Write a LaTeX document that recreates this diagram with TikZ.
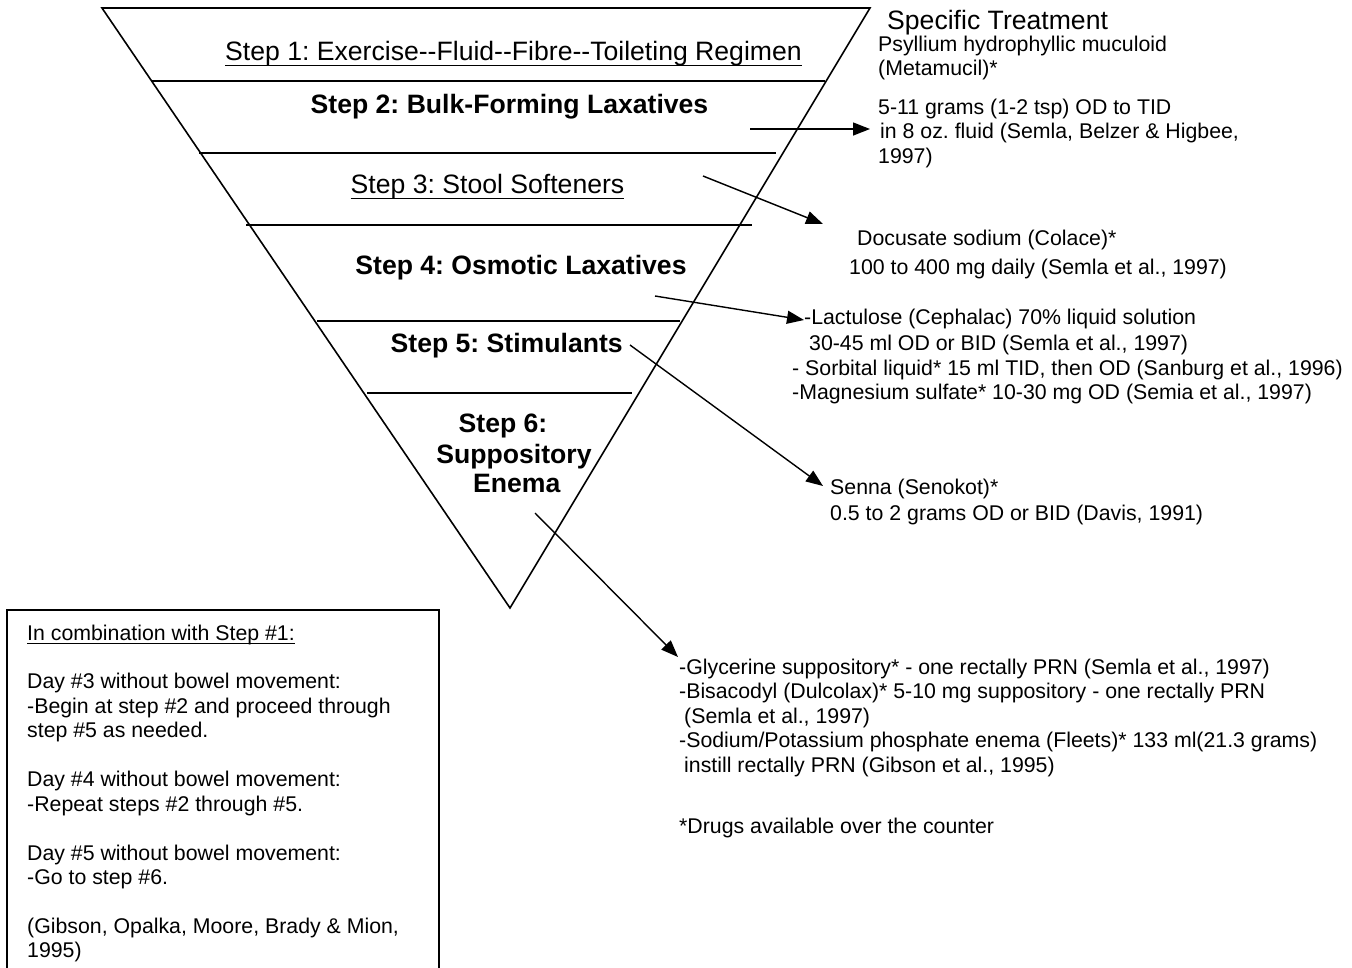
\documentclass[tikz,border=0pt]{standalone}
\usepackage{fontspec}
\setmainfont{Liberation Sans}[Ligatures=TeXOff]
\usetikzlibrary{arrows.meta}
\frenchspacing
\begin{document}
\begin{tikzpicture}[x=1pt,y=-1pt,
  body/.style={inner sep=0pt, anchor=base west, font=\fontsize{21.3}{24.45}\selectfont\frenchspacing},
  stephead/.style={inner sep=0pt, anchor=base, font=\fontsize{26.6}{30.6}\selectfont\frenchspacing},
  stepbold/.style={inner sep=0pt, anchor=base, font=\fontsize{26.6}{30.6}\selectfont\bfseries\frenchspacing},
  tri/.style={line width=1.6pt, line join=miter},
  divider/.style={line width=2pt},
  arr/.style={line width=1.4pt, -{Triangle[length=17pt,width=13pt]}},
  uline/.style={line width=1.6pt}
]
\useasboundingbox (0,0) rectangle (1352,967);
\fill[white] (0,0) rectangle (1352,967);

% inverted triangle
\draw[tri] (102,8) -- (870,8) -- (510,608) -- cycle;

% dividers
\draw[divider] (151,80.5) -- (825,80.5);
\draw[divider] (199,152.5) -- (776,152.5);
\draw[divider] (246,224.5) -- (752,224.5);
\draw[divider] (317,321) -- (680,321);
\draw[divider] (367,393) -- (632,393);

% step labels
\node[stephead] (s1) at (513.5,60.5) {Step 1: Exercise--Fluid--Fibre--Toileting Regimen};
\node[stepbold] (s2) at (509.5,113.5) {Step 2: Bulk-Forming Laxatives};
\node[stephead] (s3) at (487.5,193.5) {Step 3: Stool Softeners};
\node[stepbold] (s4) at (521,274) {Step 4: Osmotic Laxatives};
\node[stepbold] (s5) at (506.7,352) {Step 5: Stimulants};
\node[stepbold] (s6a) at (503,432) {Step 6:};
\node[stepbold] (s6b) at (514,463) {Suppository};
\node[stepbold] (s6c) at (516.7,492.5) {Enema};
\draw[uline] ([yshift=-5pt]s1.base west) -- ([yshift=-5pt]s1.base east);
\draw[uline] ([yshift=-5pt]s3.base west) -- ([yshift=-5pt]s3.base east);

% specific treatment column
\node[inner sep=0pt, anchor=base west, font=\fontsize{26.6}{30}\selectfont] (spec) at (887,29) {Specific Treatment};
\node[body] (p1) at (878,51) {Psyllium hydrophyllic muculoid};
\node[body] (p2) at (878,75.5) {(Metamucil)*};
\node[body] (p3) at (878,114.5) {5-11 grams (1-2 tsp) OD to TID};
\node[body] (p4) at (880,138.5) {in 8 oz. fluid (Semla, Belzer \& Higbee,};
\node[body] (p5) at (878,163) {1997)};

\node[body] (d1) at (857,245) {Docusate sodium (Colace)*};
\node[body] (d2) at (849,274) {100 to 400 mg daily (Semla et al., 1997)};

\node[body] (l1) at (804,324.5) {-Lactulose (Cephalac) 70\% liquid solution};
\node[body] (l2) at (809,350) {30-45 ml OD or BID (Semla et al., 1997)};
\node[body] (l3) at (792,375) {- Sorbital liquid* 15 ml TID, then OD (Sanburg et al., 1996)};
\node[body] (l4) at (792,399) {-Magnesium sulfate* 10-30 mg OD (Semia et al., 1997)};

\node[body] (n1) at (830,494) {Senna (Senokot)*};
\node[body] (n2) at (830,520) {0.5 to 2 grams OD or BID (Davis, 1991)};

\node[body] (g1) at (679,674) {-Glycerine suppository* - one rectally PRN (Semla et al., 1997)};
\node[body] (g2) at (679,698.5) {-Bisacodyl (Dulcolax)* 5-10 mg suppository - one rectally PRN};
\node[body] (g3) at (684,723) {(Semla et al., 1997)};
\node[body] (g4) at (679,747.5) {-Sodium/Potassium phosphate enema (Fleets)* 133 ml(21.3 grams)};
\node[body] (g5) at (684,772) {instill rectally PRN (Gibson et al., 1995)};
\node[body] (otc) at (679,833) {*Drugs available over the counter};

% arrows
\coordinate (a1s) at (750,129);   \coordinate (a1e) at (870,129);
\coordinate (a2s) at (703,176);   \coordinate (a2e) at (823,224);
\coordinate (a3s) at (655,296);   \coordinate (a3e) at (804,320);
\coordinate (a4s) at (630,345);   \coordinate (a4e) at (823,486);
\coordinate (a5s) at (535,513);   \coordinate (a5e) at (678,657);
\draw[arr] (a1s) -- (a1e);
\draw[arr] (a2s) -- (a2e);
\draw[arr] (a3s) -- (a3e);
\draw[arr] (a4s) -- (a4e);
\draw[arr] (a5s) -- (a5e);

% left box
\draw[line width=2pt] (7,610) rectangle (439,985);
\node[body] (b0) at (27,640) {In combination with Step \#1:};
\draw[line width=1.3pt] ([yshift=-3.5pt]b0.base west) -- ([yshift=-3.5pt]b0.base east);
\node[body] (b2) at (27,688.9) {Day \#3 without bowel movement:};
\node[body] (b3) at (27,713.35) {-Begin at step \#2 and proceed through};
\node[body] (b4) at (27,737.8) {step \#5 as needed.};
\node[body] (b6) at (27,786.7) {Day \#4 without bowel movement:};
\node[body] (b7) at (27,811.15) {-Repeat steps \#2 through \#5.};
\node[body] (b9) at (27,860.05) {Day \#5 without bowel movement:};
\node[body] (b10) at (27,884.5) {-Go to step \#6.};
\node[body] (b12) at (27,933.4) {(Gibson, Opalka, Moore, Brady \& Mion,};
\node[body] (b13) at (27,957.85) {1995)};
\end{tikzpicture}
\end{document}
